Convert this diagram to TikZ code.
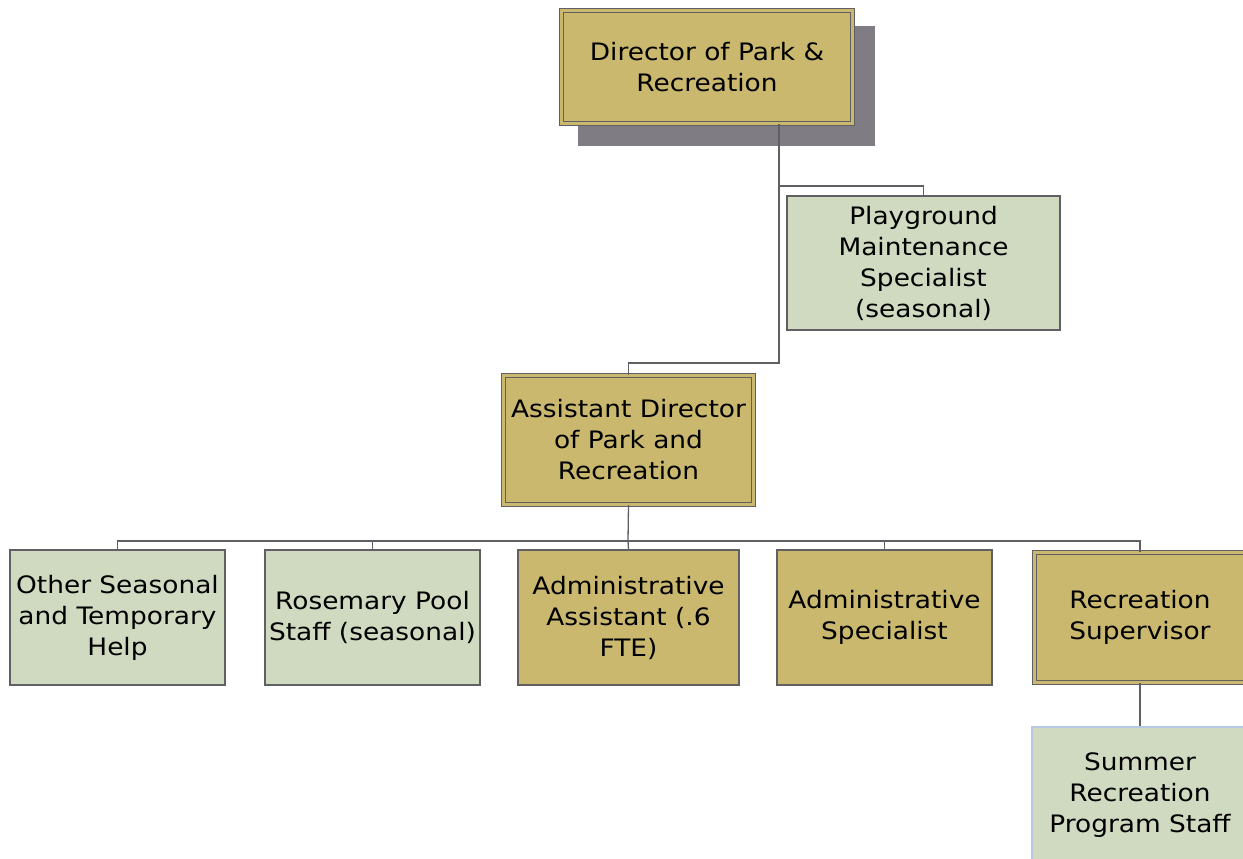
\documentclass[tikz,border=0pt]{standalone}
\usepackage{fontspec}
\setmainfont[FakeStretch=1.1]{DejaVu Sans}
\definecolor{goldfill}{RGB}{201,184,110}
\definecolor{greenfill}{RGB}{207,218,193}
\definecolor{edgegray}{RGB}{96,96,100}
\definecolor{shadowgray}{RGB}{127,124,132}
\definecolor{paleblue}{RGB}{184,200,228}
\tikzset{
  box/.style={rectangle, align=center, inner sep=0pt,
    font=\fontsize{24}{31}\selectfont, text=black},
  greenbox/.style={box, fill=greenfill, draw=edgegray, line width=1.3pt},
  goldbox/.style={box, fill=goldfill, draw=edgegray, line width=1.3pt},
  chiefbox/.style={box, fill=goldfill, draw=edgegray, line width=1.2pt,
    double=goldfill, double distance=2.4pt},
  shadowbox/.style={rectangle, fill=shadowgray, inner sep=0pt},
  link/.style={draw=edgegray, line width=1.3pt}
}
\begin{document}
\begin{tikzpicture}[x=1pt, y=-1pt]
  \useasboundingbox (0,0) rectangle (1243,859);
  \clip (0,0) rectangle (1243,859);

  % director with its offset shadow behind
  \node[shadowbox, minimum width=297pt, minimum height=120pt]
        (dirshadow) at (726.5,86) {};
  \node[chiefbox, minimum width=291pt, minimum height=113pt]
        (dir) at (707,67) {Director of Park \&\\Recreation};

  \node[greenbox, minimum width=273pt, minimum height=134pt]
        (play) at (923.5,263) {Playground\\Maintenance\\Specialist\\(seasonal)};

  \node[chiefbox, minimum width=250pt, minimum height=129pt]
        (asst) at (628.5,440) {Assistant Director\\of Park and\\Recreation};

  % staff row
  \node[greenbox, minimum width=215pt, minimum height=135pt]
        (other) at (117.5,617.5) {Other Seasonal\\and Temporary\\Help};
  \node[greenbox, minimum width=215pt, minimum height=135pt]
        (pool) at (372.5,617.5) {Rosemary Pool\\Staff (seasonal)};
  \node[goldbox, minimum width=221pt, minimum height=135pt]
        (adma) at (628.5,617.5) {Administrative\\Assistant (.6\\FTE)};
  \node[goldbox, minimum width=215pt, minimum height=135pt]
        (adms) at (884.5,617.5) {Administrative\\Specialist};
  \node[chiefbox, minimum width=211pt, minimum height=130pt]
        (rec) at (1140,617.5) {Recreation\\Supervisor};

  \node[box, fill=greenfill, draw=paleblue, line width=1.3pt,
        minimum width=216pt, minimum height=136pt]
        (summer) at (1140,795) {Summer\\Recreation\\Program Staff};

  % reporting lines
  \coordinate (fork) at (779,186);
  \coordinate (elbow) at (779,363);
  \coordinate (bus) at (628,541);
  \draw[link] (dir.south -| fork) -- (elbow) -| (asst.north);
  \draw[link] (fork) -| (play.north);
  \draw[link] (asst.south) -- (bus);
  \draw[link] (bus) -| (other.north);
  \draw[link] (bus) -| (pool.north);
  \draw[link] (bus) -- (adma.north);
  \draw[link] (bus) -| (adms.north);
  \draw[link] (bus) -| (rec.north);
  \draw[link] (rec.south) -- (summer.north);
\end{tikzpicture}
\end{document}
